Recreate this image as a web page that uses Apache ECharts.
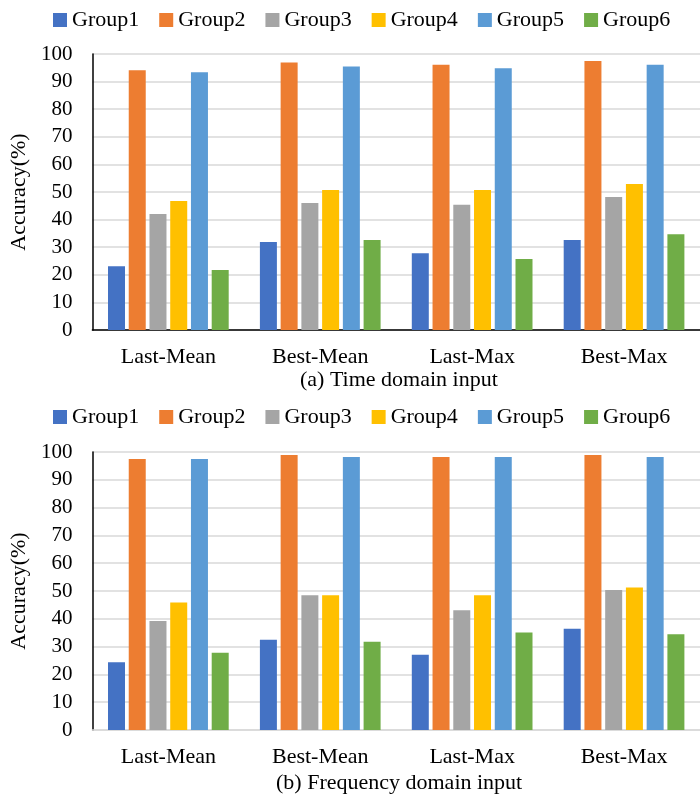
<!DOCTYPE html>
<html>
<head>
<meta charset="utf-8">
<script src="https://cdn.jsdelivr.net/npm/echarts@6/dist/echarts.min.js"></script>
<style>html,body{margin:0;padding:0;background:#fff}#c{width:700px;height:805px}</style>
</head>
<body>
<div id="c"></div>
<script>
const categories = ['Last-Mean', 'Best-Mean', 'Last-Max', 'Best-Max'];
const groups = ['Group1', 'Group2', 'Group3', 'Group4', 'Group5', 'Group6'];
const colors = ['#4472C4', '#ED7D31', '#A5A5A5', '#FFC000', '#5B9BD5', '#70AD47'];
const yTicks = [0, 100, 10];
const captions = ['(a) Time domain input', '(b) Frequency domain input'];

// Time domain input
const timeG1 = [23.1, 31.9, 27.8, 32.6];
const timeG2 = [94.1, 96.9, 96.1, 97.5];
const timeG3 = [42.0, 46.0, 45.4, 48.2];
const timeG4 = [46.7, 50.7, 50.7, 52.9];
const timeG5 = [93.4, 95.5, 94.8, 96.1];
const timeG6 = [21.7, 32.6, 25.7, 34.7];

// Frequency domain input
const freqG1 = [24.4, 32.5, 27.1, 36.4];
const freqG2 = [97.5, 98.9, 98.2, 98.9];
const freqG3 = [39.2, 48.5, 43.1, 50.4];
const freqG4 = [45.9, 48.5, 48.5, 51.3];
const freqG5 = [97.5, 98.2, 98.2, 98.2];
const freqG6 = [27.8, 31.7, 35.1, 34.4];

const timeData = [timeG1, timeG2, timeG3, timeG4, timeG5, timeG6];
const freqData = [freqG1, freqG2, freqG3, freqG4, freqG5, freqG6];

const FONT = '"Liberation Serif", "Times New Roman", serif';
const chart = echarts.init(document.getElementById('c'), null, {renderer: 'canvas'});

function makeSeries(dataSets, idx) {
  return dataSets.map((d, i) => ({
    name: groups[i],
    type: 'bar',
    xAxisIndex: idx,
    yAxisIndex: idx,
    data: d,
    barWidth: 17,
    barGap: '22%',
    itemStyle: {color: colors[i]},
    emphasis: {disabled: true}
  }));
}

function legendAt(top) {
  return {
    top: top, left: 48,
    data: groups,
    icon: 'rect',
    itemWidth: 14, itemHeight: 14,
    itemGap: 20,
    selectedMode: false,
    textStyle: {fontFamily: FONT, fontSize: 22, color: '#000'}
  };
}

const grids = [
  {left: 90, top: 54, width: 620, height: 276},
  {left: 90, top: 452, width: 620, height: 278}
];

function xAxisFor(idx, lineColor) {
  return {
    type: 'category', gridIndex: idx, data: categories,
    axisLine: {show: true, lineStyle: {color: lineColor, width: 1.5}},
    axisTick: {show: false},
    axisLabel: {fontFamily: FONT, fontSize: 22, color: '#000', margin: 16}
  };
}
function yAxisFor(idx) {
  return {
    type: 'value', gridIndex: idx, min: yTicks[0], max: yTicks[1], interval: yTicks[2],
    name: 'Accuracy(%)', nameLocation: 'middle', nameGap: 55,
    nameTextStyle: {fontFamily: FONT, fontSize: 22, color: '#000'},
    axisLine: {show: true, lineStyle: {color: '#000', width: 1.5}},
    axisTick: {show: false},
    axisLabel: {fontFamily: FONT, fontSize: 21, color: '#000', margin: 20},
    splitLine: {show: true, lineStyle: {color: '#d9d9d9', width: 1.5}}
  };
}

chart.setOption({
  animation: false,
  backgroundColor: '#fff',
  legend: [legendAt(4), legendAt(401)],
  grid: grids,
  xAxis: [xAxisFor(0, '#000'), xAxisFor(1, '#d9d9d9')],
  yAxis: [yAxisFor(0), yAxisFor(1)],
  graphic: [
    {type: 'text', left: 400 - 100, top: 369, style: {text: captions[0], font: '22px ' + FONT, fill: '#000'}, z: 10},
    {type: 'text', left: 400 - 124, top: 772, style: {text: captions[1], font: '22px ' + FONT, fill: '#000'}, z: 10}
  ],
  series: makeSeries(timeData, 0).concat(makeSeries(freqData, 1))
});
</script>
</body>
</html>
